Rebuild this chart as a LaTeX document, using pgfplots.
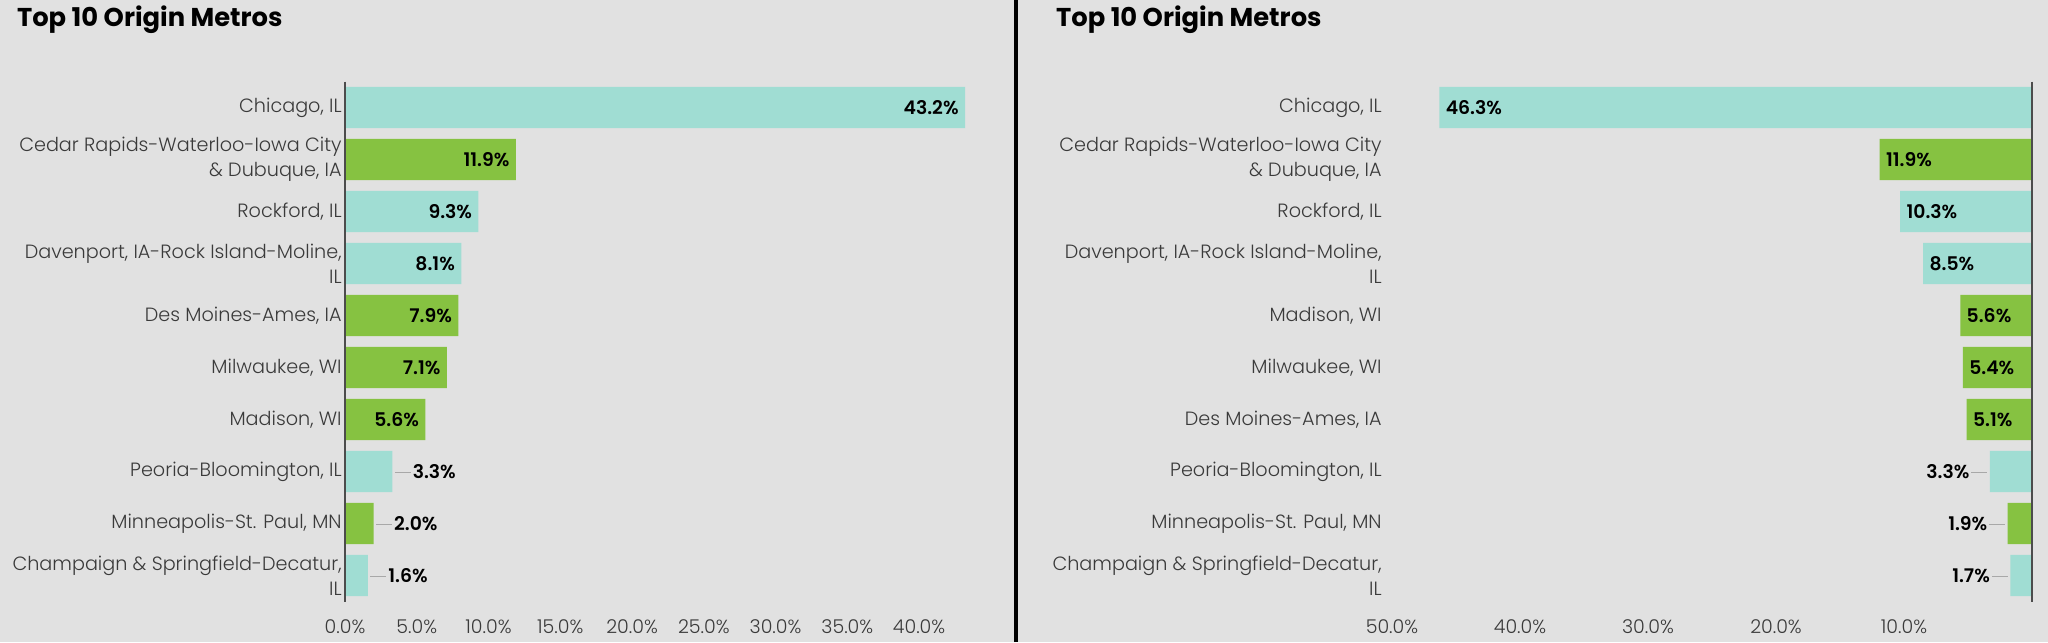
\documentclass[border=0pt]{standalone}
\usepackage{fontspec}
\setmainfont{Poppins}
\newfontfamily\lightfont{Poppins Light}
\newfontfamily\semifont{Poppins SemiBold}
\usepackage{pgfplots}
\pgfplotsset{compat=1.18}

\definecolor{bg}{HTML}{E1E1E1}
\definecolor{tealbar}{HTML}{A0DDD3}
\definecolor{grnbar}{HTML}{86C241}
\definecolor{lbl}{HTML}{3A3A3A}
\definecolor{lead}{HTML}{A8A8A8}

\newcommand{\lead}{\textcolor{lead}{\rule[0.3em]{8pt}{0.5pt}}}
\newcommand{\valfmt}{\pgfmathprintnumber[fixed,fixed zerofill,precision=1]{\pgfplotspointmeta}\%}

\pgfplotsset{
  metro/.style={
    scale only axis, height=260pt,
    anchor=south west,
    ymin=-0.5, ymax=9.5, y dir=reverse,
    ytick={0,...,9},
    axis line style={draw=none},
    major tick length=0pt,
    clip=false,
    /pgf/number format/assume math mode=true,
    xticklabel style={font=\lightfont\fontsize{9.5}{11}\selectfont, text=lbl,
      inner sep=0pt, anchor=base, yshift=-16pt},
    yticklabel style={font=\lightfont\fontsize{9.6}{12.5}\selectfont, text=lbl,
      align=right, inner sep=0pt},
  },
  bars/.style={xbar, bar width=0.79, bar shift=0pt, draw=none, fill=#1},
  vals/.style={draw=none, no marks, point meta=x,
    nodes near coords={#1},
    every node near coord/.append style={font=\semifont\fontsize{9.4}{11}\selectfont,
      text=black, inner sep=0pt}},
}

\begin{document}
\begin{tikzpicture}
\fill[bg] (0,0) rectangle (1024pt,321pt);
\useasboundingbox (0,0) rectangle (1024pt,321pt);
\draw[black, line width=2pt] (508pt,0) -- (508pt,321pt);

\node[anchor=base west, font=\bfseries\fontsize{12.9}{15}\selectfont] at (5pt,307.5pt) {Top 10 Origin Metros};
\node[anchor=base west, font=\bfseries\fontsize{12.9}{15}\selectfont] at (524.5pt,307.5pt) {Top 10 Origin Metros};

% left chart
\begin{axis}[metro,
  at={(172.5pt,20.25pt)}, width=310pt,
  xmin=0, xmax=43.2,
  xtick={0,5,...,40},
  xticklabels={0.0\%,5.0\%,10.0\%,15.0\%,20.0\%,25.0\%,30.0\%,35.0\%,40.0\%},
  yticklabels={{Chicago, IL},{Cedar Rapids-Waterloo-Iowa City\\\& Dubuque, IA},{Rockford, IL},
    {Davenport, IA-Rock Island-Moline,\\IL},{Des Moines-Ames, IA},{Milwaukee, WI},{Madison, WI},
    {Peoria-Bloomington, IL},{Minneapolis-St. Paul, MN},{Champaign \& Springfield-Decatur,\\IL}},
  yticklabel style={xshift=-1.5pt},
]
\addplot[bars=tealbar] coordinates {(43.2,0) (9.3,2) (8.1,3) (3.3,7) (1.6,9)};
\addplot[bars=grnbar] coordinates {(11.9,1) (7.9,4) (7.1,5) (5.6,6) (2.0,8)};
\addplot[vals={\valfmt}, every node near coord/.append style={anchor=east, xshift=-3pt}]
  coordinates {(43.2,0) (11.9,1) (9.3,2) (8.1,3) (7.9,4) (7.1,5) (5.6,6)};
\addplot[vals={\lead\hspace{1pt}\valfmt}, every node near coord/.append style={anchor=west, xshift=1pt}]
  coordinates {(3.3,7) (2.0,8) (1.6,9)};
\draw[black!70, line width=1pt] (axis cs:0,-0.5) -- (axis cs:0,9.5);
\end{axis}

% right chart
\begin{axis}[metro,
  at={(696pt,20.25pt)}, width=320pt,
  xmin=0, xmax=50, x dir=reverse,
  xtick={10,20,30,40,50},
  xticklabels={10.0\%,20.0\%,30.0\%,40.0\%,50.0\%},
  yticklabels={{Chicago, IL},{Cedar Rapids-Waterloo-Iowa City\\\& Dubuque, IA},{Rockford, IL},
    {Davenport, IA-Rock Island-Moline,\\IL},{Madison, WI},{Milwaukee, WI},{Des Moines-Ames, IA},
    {Peoria-Bloomington, IL},{Minneapolis-St. Paul, MN},{Champaign \& Springfield-Decatur,\\IL}},
  yticklabel style={anchor=east, xshift=-5pt},
]
\addplot[bars=tealbar] coordinates {(46.3,0) (10.3,2) (8.5,3) (3.3,7) (1.7,9)};
\addplot[bars=grnbar] coordinates {(11.9,1) (5.6,4) (5.4,5) (5.1,6) (1.9,8)};
\addplot[vals={\valfmt}, every node near coord/.append style={anchor=west, xshift=3pt}]
  coordinates {(46.3,0) (11.9,1) (10.3,2) (8.5,3) (5.6,4) (5.4,5) (5.1,6)};
\addplot[vals={\valfmt\hspace{1pt}\lead}, every node near coord/.append style={anchor=east, xshift=-1pt}]
  coordinates {(3.3,7) (1.9,8) (1.7,9)};
\draw[black!70, line width=1pt] (axis cs:0,-0.5) -- (axis cs:0,9.5);
\end{axis}
\end{tikzpicture}
\end{document}
